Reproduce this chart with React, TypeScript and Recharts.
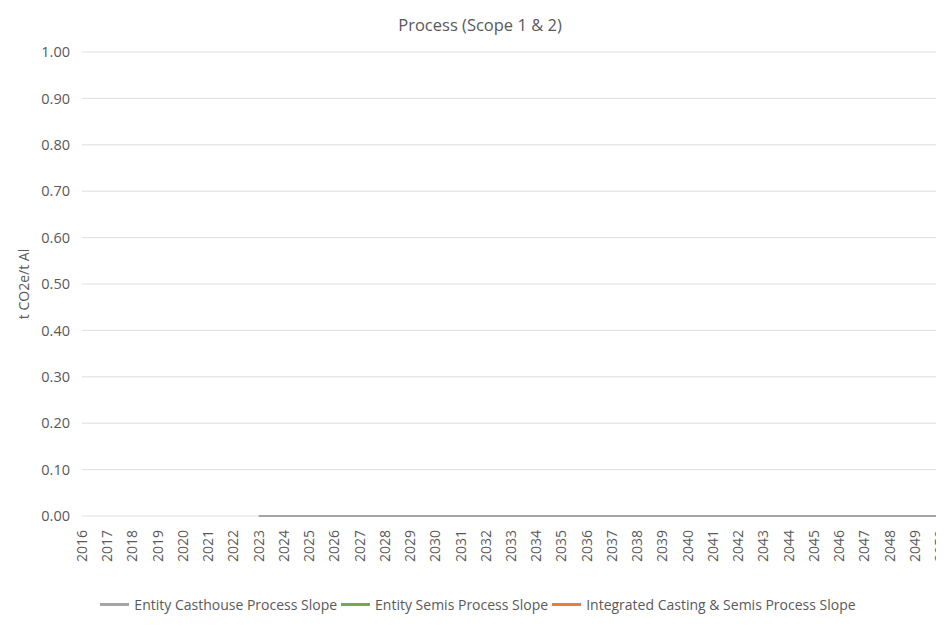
import React from "react";
import { LineChart, Line, XAxis, YAxis, CartesianGrid, Legend } from "recharts";

const years = [
  "2016", "2017", "2018", "2019", "2020", "2021", "2022", "2023", "2024", "2025",
  "2026", "2027", "2028", "2029", "2030", "2031", "2032", "2033", "2034", "2035",
  "2036", "2037", "2038", "2039", "2040", "2041", "2042", "2043", "2044", "2045",
  "2046", "2047", "2048", "2049", "2050",
];

// casthouse slope only has values from 2023 on (all zero)
const casthouse: (number | null)[] = [
  null, null, null, null, null, null, null, 0, 0, 0,
  0, 0, 0, 0, 0, 0, 0, 0, 0, 0,
  0, 0, 0, 0, 0, 0, 0, 0, 0, 0,
  0, 0, 0, 0, 0,
];
const semis: (number | null)[] = years.map(() => null);
const integrated: (number | null)[] = years.map(() => null);

const yTicks = [0, 0.1, 0.2, 0.3, 0.4, 0.5, 0.6, 0.7, 0.8, 0.9, 1.0];

const series = [
  { key: "casthouse", name: "Entity Casthouse Process Slope", color: "#a5a5a5" },
  { key: "semis", name: "Entity Semis Process Slope", color: "#70ad47" },
  { key: "integrated", name: "Integrated Casting & Semis Process Slope", color: "#ed7d31" },
];

const data = years.map((y, i) => ({
  year: y,
  casthouse: casthouse[i],
  semis: semis[i],
  integrated: integrated[i],
}));

const FONT = "'Open Sans', sans-serif";
const TEXT = "#595959";

const YearTick = (props: any) => {
  const { x, y, payload } = props;
  return (
    <text
      x={0}
      y={0}
      transform={`translate(${x + 5},${y + 6}) rotate(-90)`}
      textAnchor="end"
      fill={TEXT}
      fontSize={14}
      fontFamily={FONT}
    >
      {payload.value}
    </text>
  );
};

const LegendBox = () => (
  <div
    style={{
      height: 52,
      display: "flex",
      justifyContent: "center",
      alignItems: "center",
      fontFamily: FONT,
      fontSize: 14,
      color: TEXT,
      paddingLeft: 20,
    }}
  >
    {series.map((s) => (
      <span key={s.key} style={{ display: "inline-flex", alignItems: "center", marginRight: 4 }}>
        <span style={{ display: "inline-block", width: 29, height: 3, background: s.color, marginRight: 5 }} />
        {s.name}
      </span>
    ))}
  </div>
);

export default function App() {
  return (
    <div style={{ position: "relative", margin: -8, width: 944, height: 630, overflow: "hidden", background: "#fff" }}>
      <div
        style={{
          position: "absolute",
          top: 13,
          left: 0,
          width: 960,
          textAlign: "center",
          fontFamily: FONT,
          fontSize: 16.5,
          color: TEXT,
        }}
      >
        Process (Scope 1 &amp; 2)
      </div>
      <div style={{ position: "absolute", left: 0, top: 0 }}>
        <LineChart width={952} height={630} data={data} margin={{ top: 52, right: 12, left: 0, bottom: 0 }}>
          <CartesianGrid vertical={false} stroke="#dedede" />
          <XAxis
            dataKey="year"
            axisLine={false}
            tickLine={false}
            interval={0}
            height={62}
            tick={<YearTick />}
          />
          <YAxis
            domain={[0, 1]}
            ticks={yTicks}
            width={82}
            axisLine={false}
            tickLine={false}
            tickMargin={6}
            tickFormatter={(v: number) => v.toFixed(2)}
            tick={{ fill: TEXT, fontSize: 14.5, fontFamily: FONT }}
            label={{
              value: "t CO2e/t Al",
              angle: -90,
              position: "insideLeft",
              offset: 24,
              style: { fill: TEXT, fontSize: 14, fontFamily: FONT, textAnchor: "middle" },
            }}
          />
          <Legend verticalAlign="bottom" content={<LegendBox />} />
          {series.map((s) => (
            <Line
              key={s.key}
              dataKey={s.key}
              name={s.name}
              stroke={s.color}
              strokeWidth={2}
              dot={false}
              activeDot={false}
              isAnimationActive={false}
            />
          ))}
        </LineChart>
      </div>
      {/* chart frame, right side runs off the page like the original */}
      <div
        style={{
          position: "absolute",
          left: 7,
          top: 2,
          width: 980,
          height: 625,
          border: "1px solid #d9d9d9",
          boxSizing: "border-box",
          pointerEvents: "none",
        }}
      />
    </div>
  );
}
